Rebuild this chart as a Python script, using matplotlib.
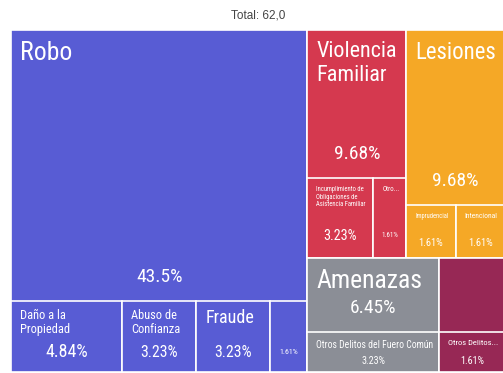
"""
Treemap de incidencia delictiva: grupos de delito y sus subtipos,
con el porcentaje de cada celda respecto al total.
"""

import matplotlib
matplotlib.use("Agg")
import matplotlib.pyplot as plt
from matplotlib import font_manager
from matplotlib.patches import Rectangle

# ---------------------------------------------------------------------------
# Datos
total = 62

groups = ["Robo", "Violencia\nFamiliar", "Lesiones", "Amenazas",
          "Otros Delitos del Fuero Común"]
group_values = [27, 6, 6, 4, 2]
group_colors = ["#585cd4", "#d5394f", "#f5a826", "#8b8e96", "#972855"]

child_parent = [0, 0, 0, 0, 1, 1, 2, 2, 3, 4]
child_labels = ["Daño a la\nPropiedad", "Abuso de\nConfianza", "Fraude", "",
                "Incumplimiento de\nObligaciones de\nAsistencia Familiar", "Otro...",
                "Imprudencial", "Intencional",
                "Otros Delitos del Fuero Común", "Otros Delitos..."]
child_values = [3, 2, 2, 1, 2, 1, 1, 1, 2, 1]

# ---------------------------------------------------------------------------
# Estilo / geometría
W, H = 503, 373
x0, y0, dw, dh = 11, 30, 494, 342      # área del treemap (px)
band_k = 0.7                            # alto relativo de la franja de subtipos
edge = dict(edgecolor="white", linewidth=1.2)

names = {f.name for f in font_manager.fontManager.ttflist}
font = next((f for f in ["Roboto Condensed", "Liberation Sans Narrow", "Roboto"]
             if f in names), "DejaVu Sans")
plt.rcParams["font.family"] = [font, "DejaVu Sans"]


def pct(v):
    return f"{100 * v / total:.3g}%"


def split(vals, x, y, w, h, across):
    """Divide un rectángulo en franjas proporcionales a vals."""
    s = sum(vals)
    out, pos = [], 0
    for v in vals:
        f0, f = pos / s, v / s
        if across:
            out.append((x + w * f0, y, w * f, h))
        else:
            out.append((x, y + h * f0, w, h * f))
        pos += v
    return out


fig = plt.figure(figsize=(W / 100, H / 100), dpi=100)
ax = fig.add_axes([0, 0, 1, 1])
ax.set_xlim(0, W)
ax.set_ylim(H, 0)
ax.axis("off")
renderer = fig.canvas.get_renderer()


def fit(t, max_w, max_h):
    """Reduce el texto hasta que quepa; devuelve el factor aplicado."""
    bb = t.get_window_extent(renderer)
    scale = min(1.0, max_w / max(bb.width, 1), max_h / max(bb.height, 1))
    t.set_fontsize(t.get_fontsize() * scale)
    return scale


def bottom_of(t):
    return H - t.get_window_extent(renderer).y0


# el grupo mayor ocupa una columna; el resto va en filas de dos
head, rest = split([group_values[0], sum(group_values[1:])], x0, y0, dw, dh, True)
rows = [list(range(i, min(i + 2, len(groups)))) for i in range(1, len(groups), 2)]
row_rects = split([sum(group_values[j] for j in r) for r in rows], *rest, False)
group_rects = [head]
for r, rr in zip(rows, row_rects):
    group_rects += split([group_values[j] for j in r], *rr, True)

for gi, (gx, gy, gw, gh) in enumerate(group_rects):
    color = group_colors[gi]
    ax.add_patch(Rectangle((gx, gy), gw, gh, facecolor=color, **edge))

    kids = [i for i, p in enumerate(child_parent) if p == gi]
    kid_sum = sum(child_values[i] for i in kids)
    band_h = band_k * kid_sum / group_values[gi] * gh
    band_y = gy + gh - band_h

    # subtipos en la franja inferior
    kid_rects = split([child_values[i] for i in kids], gx, band_y, gw, band_h, True)
    for i, (cx, cy, cw, ch) in zip(kids, kid_rects):
        ax.add_patch(Rectangle((cx, cy), cw, ch, facecolor=color, **edge))
        lab_bottom = cy + 6
        if child_labels[i]:
            lab = ax.text(cx + 9, cy + 8, child_labels[i], fontsize=13, color="white",
                          ha="left", va="top", linespacing=1.1)
            fit(lab, cw - 16, 0.36 * ch)
            lab_bottom = bottom_of(lab)
        size = min(13.5, cw / 6.5, ch / 5.5)
        p = ax.text(cx + cw / 2, 0, pct(child_values[i]), fontsize=size,
                    color="white", ha="center", va="center")
        fit(p, cw - 8, ch)
        ph = p.get_window_extent(renderer).height
        p.set_y(max(lab_bottom + ph / 2 + 3, cy + 0.72 * ch))

    # etiqueta del grupo y su porcentaje
    lab = ax.text(gx + 9, gy + 11, groups[gi], fontsize=18.5, color="white",
                  ha="left", va="top", linespacing=1.2)
    if fit(lab, gw - 18, 0.55 * (gh - band_h)) < 0.6:
        lab.remove()
        continue
    ax.text(gx + gw / 2, band_y - 24, pct(group_values[gi]), fontsize=14,
            color="white", ha="center", va="center")

fig.text((x0 + dw / 2) / W, 1 - 15 / H, f"Total: {total:.1f}".replace(".", ","),
         ha="center", va="center", fontsize=8.5, color="#444444",
         family=["Liberation Sans", "DejaVu Sans"])

fig.savefig("out.png", dpi=100)
